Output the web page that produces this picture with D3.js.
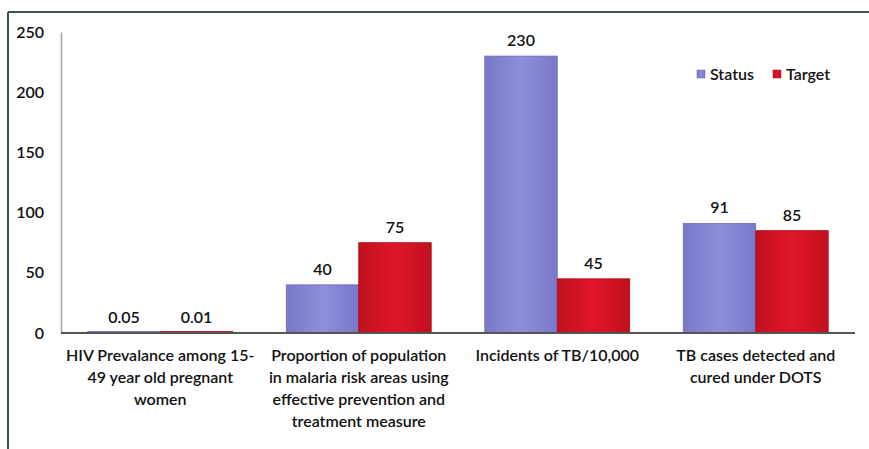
<!DOCTYPE html>
<html><head><meta charset="utf-8">
<script src="https://cdn.jsdelivr.net/npm/d3@7"></script>
<style>body{margin:0;background:#fff}svg{display:block}text{font-family:Lato,"Open Sans",sans-serif;font-weight:600}</style>
</head><body><svg id="c" width="869" height="449"></svg>
<script>
const categories = [
  ["HIV Prevalance among 15-","49 year old pregnant","women"],
  ["Proportion of population","in malaria risk areas using","effective prevention and","treatment measure"],
  ["Incidents of TB/10,000"],
  ["TB cases detected and","cured under DOTS"]
];
const statusValues = [0.05, 40, 230, 91];
const targetValues = [0.01, 75, 45, 85];
const statusLabels = ["0.05","40","230","91"];
const targetLabels = ["0.01","75","45","85"];
const seriesNames = ["Status","Target"];
const yTicks = [0,50,100,150,200,250];

(function(){
const svg = d3.select("#c");
const defs = svg.append("defs");
function grad(id, edge, mid){
  const g = defs.append("linearGradient").attr("id",id).attr("x1","0").attr("x2","1").attr("y1","0").attr("y2","0");
  g.append("stop").attr("offset","0%").attr("stop-color",edge);
  g.append("stop").attr("offset","50%").attr("stop-color",mid);
  g.append("stop").attr("offset","100%").attr("stop-color",edge);
}
grad("gS","#7878c8","#8e8edc");
grad("gT","#c0101e","#e0162a");
const fills = ["url(#gS)","url(#gT)"];
const strokes = ["#6a6ab8","#b00c1a"];
const FS = 16;

svg.append("line").attr("x1",8).attr("x2",869).attr("y1",12).attr("y2",12).attr("stroke","#3c5450").attr("stroke-width",2);
svg.append("line").attr("x1",8).attr("x2",8).attr("y1",12).attr("y2",449).attr("stroke","#3c5450").attr("stroke-width",2);

const pLeft = 61, pRight = 855, pTop = 32, pBottom = 333;
const idx = d3.range(categories.length);
const x0 = d3.scaleBand().domain(idx).range([pLeft,pRight]).paddingInner(0.27).paddingOuter(0.135);
const x1 = d3.scaleBand().domain([0,1]).range([0,x0.bandwidth()]);
const y = d3.scaleLinear().domain([0,250]).range([pBottom,pTop]);

const yAxis = d3.axisLeft(y).tickValues(yTicks).tickSize(0).tickPadding(17);
const gy = svg.append("g").attr("transform",`translate(${pLeft},0)`).call(yAxis);
gy.select(".domain").attr("stroke","#9aa8a8").attr("stroke-width",1.5);
gy.selectAll("text").attr("font-size",FS).attr("fill","#111").attr("font-family","Lato, sans-serif").attr("font-weight",600);

const series = [statusValues, targetValues];
const labels = [statusLabels, targetLabels];
series.forEach((vals,s)=>{
  const g = svg.append("g");
  g.selectAll("rect").data(vals).join("rect")
    .attr("x",(d,i)=>x0(i)+x1(s))
    .attr("y",d=>Math.min(y(d),pBottom-1.5))
    .attr("width",x1.bandwidth())
    .attr("height",d=>Math.max(pBottom-y(d),1.5))
    .attr("fill",fills[s]).attr("stroke",strokes[s]).attr("stroke-width",0.8);
  g.selectAll("text").data(vals).join("text")
    .attr("x",(d,i)=>x0(i)+x1(s)+x1.bandwidth()/2)
    .attr("y",d=>y(d)-10)
    .attr("text-anchor","middle").attr("font-size",FS).attr("fill","#111")
    .text((d,i)=>labels[s][i]);
});

svg.append("line").attr("x1",pLeft).attr("x2",pRight).attr("y1",pBottom).attr("y2",pBottom).attr("stroke","#555").attr("stroke-width",2);

categories.forEach((lines,i)=>{
  const t = svg.append("text").attr("text-anchor","middle").attr("font-size",FS).attr("fill","#111");
  lines.forEach((l,k)=>t.append("tspan").attr("x",x0(i)+x0.bandwidth()/2).attr("y",361+k*22).text(l));
});

const lg = svg.append("g").attr("transform","translate(697,75)");
seriesNames.forEach((n,i)=>{
  const off = i*76;
  lg.append("rect").attr("x",off).attr("y",-5).attr("width",8).attr("height",8).attr("fill",fills[i]).attr("stroke",strokes[i]).attr("stroke-width",0.5);
  lg.append("text").attr("x",off+13).attr("y",5).attr("font-size",FS).attr("fill","#111").text(n);
});
})();
</script></body></html>
